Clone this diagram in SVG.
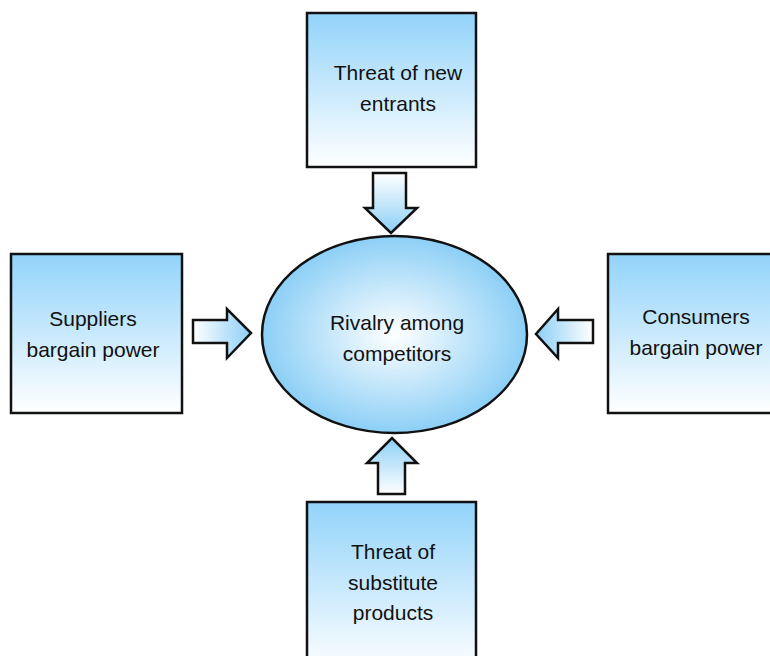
<svg xmlns="http://www.w3.org/2000/svg" width="770" height="656" viewBox="0 0 770 656">
  <defs>
    <linearGradient id="boxFill" x1="0" y1="0" x2="0" y2="1">
      <stop offset="0" stop-color="#92d3fa"/>
      <stop offset="1" stop-color="#ffffff"/>
    </linearGradient>
    <radialGradient id="ovalFill" cx="0.5" cy="0.5" r="0.5">
      <stop offset="0" stop-color="#ffffff"/>
      <stop offset="1" stop-color="#8ccff6"/>
    </radialGradient>
    <linearGradient id="arrowDown" x1="0" y1="0" x2="0" y2="1">
      <stop offset="0" stop-color="#ffffff"/>
      <stop offset="1" stop-color="#8ccff6"/>
    </linearGradient>
    <linearGradient id="arrowUp" x1="0" y1="1" x2="0" y2="0">
      <stop offset="0" stop-color="#ffffff"/>
      <stop offset="1" stop-color="#8ccff6"/>
    </linearGradient>
    <linearGradient id="arrowRight" x1="0" y1="0" x2="1" y2="0">
      <stop offset="0" stop-color="#ffffff"/>
      <stop offset="1" stop-color="#8ccff6"/>
    </linearGradient>
    <linearGradient id="arrowLeft" x1="1" y1="0" x2="0" y2="0">
      <stop offset="0" stop-color="#ffffff"/>
      <stop offset="1" stop-color="#8ccff6"/>
    </linearGradient>
  </defs>
  <style>
    .box { fill: url(#boxFill); stroke: #111; stroke-width: 2.5; }
    .oval { fill: url(#ovalFill); stroke: #111; stroke-width: 2.5; }
    .arrow { stroke: #111; stroke-width: 2.5; stroke-linejoin: miter; }
    .label { font-family: "Liberation Sans", Arial, sans-serif; font-size: 21px; fill: #111; text-anchor: middle; }
  </style>
  <rect width="770" height="656" fill="#ffffff"/>

  <!-- block arrows pointing at the centre -->
  <g id="connectors">
    <polygon class="arrow" fill="url(#arrowDown)" points="373,173 406,173 406,208 417,208 391,233 365,208 373,208"/>
    <polygon class="arrow" fill="url(#arrowRight)" points="193,320 227,320 227,309 251,333 227,358 227,343 193,343"/>
    <polygon class="arrow" fill="url(#arrowLeft)" points="593,320 558,320 558,309 536,334 558,358 558,343 593,343"/>
    <polygon class="arrow" fill="url(#arrowUp)" points="378,494 378,463 367,463 392,438 417,463 405,463 405,494"/>
  </g>

  <g id="rivalry">
    <ellipse class="oval" cx="394.5" cy="334.5" rx="132.5" ry="98.5"/>
    <text class="label" x="397" y="330">Rivalry among</text>
    <text class="label" x="397" y="361">competitors</text>
  </g>

  <g id="new-entrants">
    <rect class="box" x="307" y="13" width="169" height="154"/>
    <text class="label" x="398" y="80">Threat of new</text>
    <text class="label" x="398" y="111">entrants</text>
  </g>

  <g id="suppliers">
    <rect class="box" x="11" y="254" width="171" height="159"/>
    <text class="label" x="93" y="326">Suppliers</text>
    <text class="label" x="93" y="357">bargain power</text>
  </g>

  <g id="consumers">
    <rect class="box" x="608" y="254" width="180" height="159"/>
    <text class="label" x="696" y="324">Consumers</text>
    <text class="label" x="696" y="355">bargain power</text>
  </g>

  <g id="substitutes">
    <rect class="box" x="307" y="502" width="169" height="170"/>
    <text class="label" x="393" y="559">Threat of</text>
    <text class="label" x="393" y="590">substitute</text>
    <text class="label" x="393" y="620">products</text>
  </g>
</svg>
